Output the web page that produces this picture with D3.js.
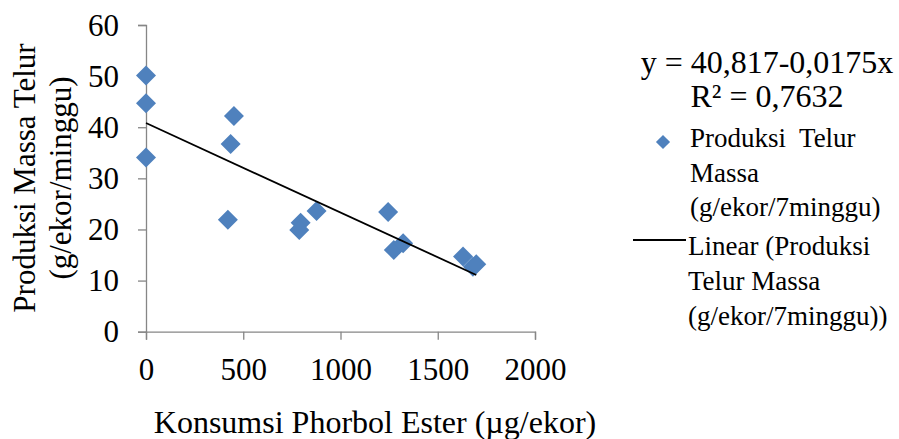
<!DOCTYPE html>
<html>
<head>
<meta charset="utf-8">
<script src="https://cdn.jsdelivr.net/npm/d3@7"></script>
<style>
  body { margin: 0; background: #fff; }
  text { font-family: "Liberation Serif", "Times New Roman", serif; fill: #000; white-space: pre; }
</style>
</head>
<body>
<div id="chart"></div>
<script>
// data
const konsumsi = [0, 0, 0, 452, 435, 421, 795, 788, 877, 1245, 1274, 1322, 1630, 1681, 1698];
const produksi = [50.1, 44.7, 34.1, 42.2, 36.7, 21.9, 21.3, 19.9, 23.6, 23.4, 16.0, 17.3, 14.7, 12.7, 13.2];
const xTicks = [0, 500, 1000, 1500, 2000];
const yTicks = [0, 10, 20, 30, 40, 50, 60];
const intercept = 40.817;
const slope = -0.0175;
const eqLines = ["y = 40,817-0,0175x", "R² = 0,7632"];
const seriesLabel = ["Produksi  Telur", "Massa", "(g/ekor/7minggu)"];
const trendLabel = ["Linear (Produksi", "Telur Massa", "(g/ekor/7minggu))"];

const width = 899, height = 439;
const serif = "Liberation Serif, Times New Roman, serif";
const axisColor = "#868686";
const markColor = "#4f81bd";

const svg = d3.select("#chart").append("svg")
  .attr("width", width)
  .attr("height", height);

const x = d3.scaleLinear().domain([0, 2000]).range([146, 535]);
const y = d3.scaleLinear().domain([0, 60]).range([331.7, 25]);

// y axis
const yAxis = svg.append("g")
  .attr("transform", `translate(${x(0)},0)`)
  .call(d3.axisLeft(y).tickValues(yTicks).tickFormat(d3.format("d")).tickSize(8).tickPadding(19));
// x axis
const xAxis = svg.append("g")
  .attr("transform", `translate(0,${y(0)})`)
  .call(d3.axisBottom(x).tickValues(xTicks).tickFormat(d3.format("d")).tickSize(8).tickPadding(18));

[yAxis, xAxis].forEach(g => {
  g.attr("font-family", serif).attr("font-size", 31);
  g.select(".domain").attr("stroke", axisColor).attr("stroke-width", 1.3);
  g.selectAll(".tick line").attr("stroke", axisColor).attr("stroke-width", 1.3);
  g.selectAll(".tick text").attr("fill", "#000");
});
yAxis.selectAll(".tick text").attr("dy", "0.33em");
xAxis.selectAll(".tick text").attr("dy", "0.71em");

// axis titles
svg.append("text")
  .attr("x", 375).attr("y", 433)
  .attr("text-anchor", "middle")
  .attr("font-size", 32)
  .text("Konsumsi Phorbol Ester (µg/ekor)");

const yTitle = svg.append("text")
  .attr("transform", `translate(0,178) rotate(-90)`)
  .attr("text-anchor", "middle")
  .attr("font-size", 31);
yTitle.append("tspan").attr("x", 0).attr("y", 35).text("Produksi Massa Telur");
yTitle.append("tspan").attr("x", 0).attr("y", 71).text("(g/ekor/minggu)");

// points
const diamond = d3.symbol().type(d3.symbolSquare).size(200);
svg.append("g").selectAll("path")
  .data(konsumsi.map((k, i) => ({ k, p: produksi[i] })))
  .join("path")
  .attr("d", diamond)
  .attr("transform", d => `translate(${x(d.k)},${y(d.p)}) rotate(45)`)
  .attr("fill", markColor);

// linear trend
const xMin = d3.min(konsumsi), xMax = d3.max(konsumsi);
svg.append("line")
  .attr("x1", x(xMin)).attr("y1", y(intercept + slope * xMin))
  .attr("x2", x(xMax)).attr("y2", y(intercept + slope * xMax))
  .attr("stroke", "#000")
  .attr("stroke-width", 1.8);

// equation
svg.append("g").selectAll("text")
  .data(eqLines)
  .join("text")
  .attr("x", 767)
  .attr("y", (d, i) => 73 + i * 34)
  .attr("text-anchor", "middle")
  .attr("font-size", 32)
  .text(d => d);

// legend
const legend = svg.append("g");
legend.append("path")
  .attr("d", d3.symbol().type(d3.symbolSquare).size(100))
  .attr("transform", "translate(663,142) rotate(45)")
  .attr("fill", markColor);
legend.append("line")
  .attr("x1", 633).attr("x2", 686)
  .attr("y1", 240).attr("y2", 240)
  .attr("stroke", "#000").attr("stroke-width", 1.8);

legend.append("g").selectAll("text")
  .data(seriesLabel)
  .join("text")
  .attr("x", 690)
  .attr("y", (d, i) => 147 + i * 34.5)
  .attr("font-size", 27)
  .text(d => d);

legend.append("g").selectAll("text")
  .data(trendLabel)
  .join("text")
  .attr("x", 688)
  .attr("y", (d, i) => 255 + i * 35)
  .attr("font-size", 27)
  .text(d => d);
</script>
</body>
</html>
